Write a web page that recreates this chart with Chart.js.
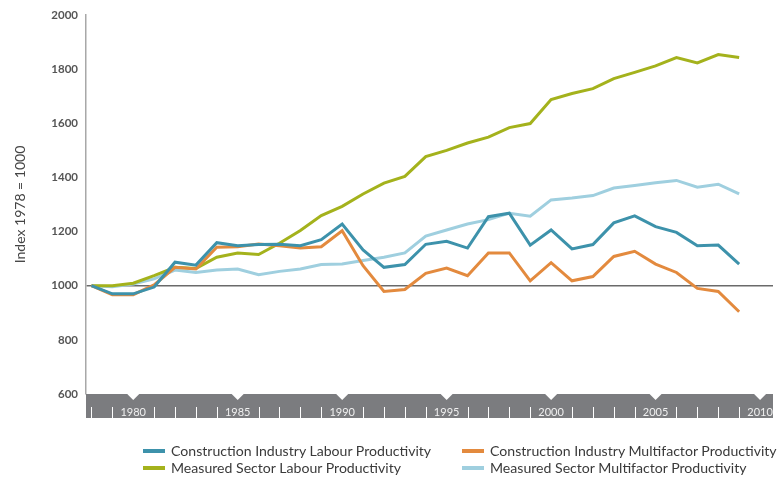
<!DOCTYPE html>
<html>
<head>
<meta charset="utf-8">
<script src="https://cdn.jsdelivr.net/npm/chart.js@4.4.1/dist/chart.umd.min.js"></script>
<style>
    body { margin: 0; background: #ffffff; }
    #wrap { position: relative; width: 778px; height: 478px; }
    #chart_main { position: absolute; left: 0; top: 0; }
    .legend_item { position: absolute; font-family: Lato, sans-serif; font-size: 14.1px; color: #3a3a3a; white-space: nowrap; line-height: 16px; }
    .legend_swatch { position: absolute; left: -28px; top: 6px; width: 22px; height: 4px; }
</style>
</head>
<body>
<div id="wrap">
    <canvas id="chart_main" width="778" height="478"></canvas>
    <div id="legend_box"></div>
</div>
<script>
const years = [1978, 1979, 1980, 1981, 1982, 1983, 1984, 1985, 1986, 1987, 1988, 1989, 1990, 1991, 1992, 1993,
    1994, 1995, 1996, 1997, 1998, 1999, 2000, 2001, 2002, 2003, 2004, 2005, 2006, 2007, 2008, 2009];

const construction_labour = [1000, 970, 970, 995, 1087, 1076, 1159, 1148, 1152, 1153, 1148, 1170, 1228, 1132, 1068, 1078,
    1153, 1164, 1139, 1255, 1268, 1150, 1206, 1136, 1152, 1232, 1258, 1218, 1197, 1148, 1150, 1080];
const construction_multifactor = [1000, 967, 967, 1003, 1068, 1062, 1142, 1144, 1154, 1148, 1139, 1144, 1203, 1074, 979, 986,
    1046, 1065, 1037, 1121, 1121, 1018, 1085, 1018, 1034, 1108, 1127, 1080, 1049, 990, 979, 904];
const sector_labour = [1000, 1000, 1009, 1037, 1068, 1064, 1105, 1121, 1115, 1157, 1204, 1259, 1293, 1339, 1379, 1404,
    1477, 1500, 1527, 1549, 1584, 1599, 1688, 1710, 1728, 1765, 1788, 1812, 1843, 1823, 1854, 1843];
const sector_multifactor = [1000, 996, 1006, 1025, 1058, 1049, 1058, 1062, 1041, 1053, 1062, 1078, 1080, 1093, 1105, 1121,
    1183, 1206, 1228, 1244, 1268, 1257, 1317, 1324, 1333, 1361, 1370, 1380, 1389, 1364, 1375, 1339];

const y_ticks = [600, 800, 1000, 1200, 1400, 1600, 1800, 2000];
const band_labels = [1980, 1985, 1990, 1995, 2000, 2005, 2010];
const band_ticks = [1978, 1979, 1981, 1982, 1983, 1984, 1986, 1987, 1988, 1989, 1991, 1992, 1993, 1994,
    1996, 1997, 1998, 1999, 2001, 2002, 2003, 2004, 2006, 2007, 2008, 2009];

const series_list = [
    { label: 'Construction Industry Labour Productivity', values: construction_labour, color: '#3d92ab' },
    { label: 'Construction Industry Multifactor Productivity', values: construction_multifactor, color: '#e38a3e' },
    { label: 'Measured Sector Labour Productivity', values: sector_labour, color: '#a4b21c' },
    { label: 'Measured Sector Multifactor Productivity', values: sector_multifactor, color: '#9fcfdf' },
];

function to_points(values) {
    return values.map((v, i) => ({ x: years[i], y: v }));
}

// grey year band under the plot
const year_band = {
    id: 'year_band',
    afterDraw(chart) {
        const ctx = chart.ctx;
        const area = chart.chartArea;
        const xs = chart.scales.x;
        const top = area.bottom;
        const bottom = top + 24;

        ctx.save();
        ctx.fillStyle = '#7b7c7f';
        ctx.fillRect(area.left, top, area.right - area.left, bottom - top);

        ctx.fillStyle = '#ffffff';
        band_labels.forEach((yr) => {
            const px = xs.getPixelForValue(yr);
            ctx.beginPath();
            ctx.moveTo(px - 6, top);
            ctx.lineTo(px + 6, top);
            ctx.lineTo(px, top + 6);
            ctx.closePath();
            ctx.fill();
        });

        ctx.strokeStyle = '#ffffff';
        ctx.lineWidth = 1;
        band_ticks.forEach((yr) => {
            const px = Math.round(xs.getPixelForValue(yr)) + 0.5;
            ctx.beginPath();
            ctx.moveTo(px, top + 13);
            ctx.lineTo(px, bottom);
            ctx.stroke();
        });

        ctx.fillStyle = '#f0f0f0';
        ctx.font = '11px Lato, sans-serif';
        ctx.textAlign = 'center';
        ctx.textBaseline = 'middle';
        band_labels.forEach((yr) => {
            ctx.fillText(String(yr), xs.getPixelForValue(yr), top + 18);
        });
        ctx.restore();
    },
};

const ctx = document.getElementById('chart_main').getContext('2d');
new Chart(ctx, {
    type: 'line',
    data: {
        datasets: series_list.map((s) => ({
            label: s.label,
            data: to_points(s.values),
            borderColor: s.color,
            backgroundColor: s.color,
            borderWidth: 3,
            pointRadius: 0,
            tension: 0,
        })),
    },
    options: {
        responsive: false,
        animation: false,
        layout: {
            padding: { top: 15, right: 5, bottom: 84, left: 0 },
        },
        plugins: {
            legend: { display: false },
            tooltip: { enabled: false },
        },
        scales: {
            x: {
                type: 'linear',
                display: false,
                min: 1977.74,
                max: 2010.62,
            },
            y: {
                min: 600,
                max: 2000,
                afterFit: (scale) => { scale.width = 86; },
                afterBuildTicks: (scale) => { scale.ticks = y_ticks.map((v) => ({ value: v })); },
                border: { color: '#a8a8a8', width: 1.5 },
                grid: {
                    drawTicks: false,
                    lineWidth: 1.5,
                    color: (c) => (c.tick && c.tick.value === 1000 ? '#6a6a6a' : 'rgba(0,0,0,0)'),
                },
                ticks: {
                    padding: 8,
                    color: '#555555',
                    font: { family: 'Lato', size: 11.5, weight: 'bold' },
                    callback: (v) => String(v),
                },
                title: {
                    display: true,
                    text: 'Index 1978 = 1000',
                    color: '#444444',
                    font: { family: 'Lato', size: 14 },
                    padding: { top: 12, bottom: 0 },
                },
            },
        },
    },
    plugins: [year_band],
});

// legend, two columns
const legend_pos = [
    { left: 171, top: 443 },
    { left: 490, top: 443 },
    { left: 171, top: 460 },
    { left: 490, top: 460 },
];
const legend_box = document.getElementById('legend_box');
series_list.forEach((s, i) => {
    const item = document.createElement('div');
    item.className = 'legend_item';
    item.style.left = legend_pos[i].left + 'px';
    item.style.top = legend_pos[i].top + 'px';
    item.textContent = s.label;
    const swatch = document.createElement('span');
    swatch.className = 'legend_swatch';
    swatch.style.background = s.color;
    item.appendChild(swatch);
    legend_box.appendChild(item);
});
</script>
</body>
</html>
